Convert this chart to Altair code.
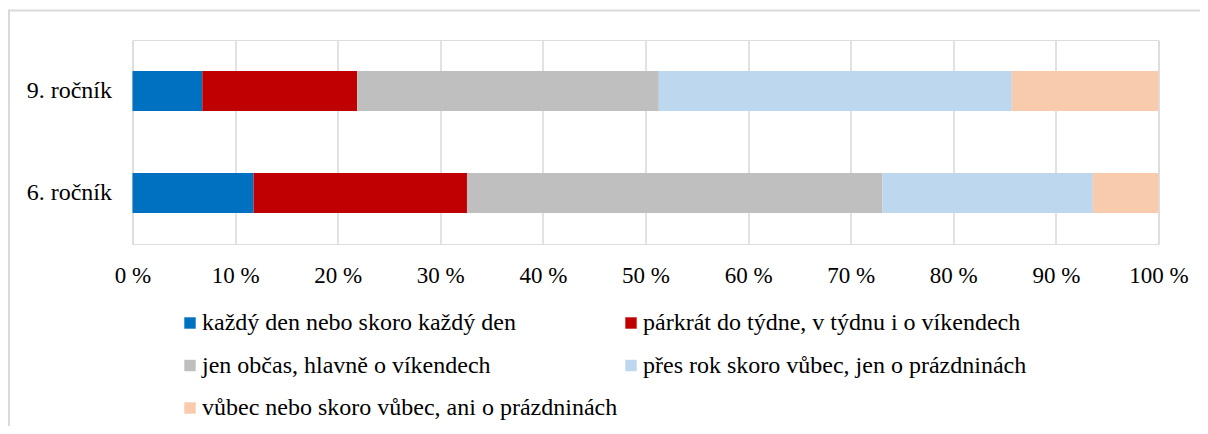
import altair as alt
import pandas as pd

categories = ["9. ročník", "6. ročník"]
series = [
    "každý den nebo skoro každý den",
    "párkrát do týdne, v týdnu i o víkendech",
    "jen občas, hlavně o víkendech",
    "přes rok skoro vůbec, jen o prázdninách",
    "vůbec nebo skoro vůbec, ani o prázdninách",
]
values_9 = [6.8, 15.1, 29.4, 34.4, 14.3]
values_6 = [11.8, 20.8, 40.5, 20.5, 6.4]
colors = ["#0070C0", "#C00000", "#BFBFBF", "#BDD7EE", "#F8CBAD"]
x_ticks = [0, 10, 20, 30, 40, 50, 60, 70, 80, 90, 100]

rows = []
for cat, vals in zip(categories, [values_9, values_6]):
    for i, (s, v) in enumerate(zip(series, vals)):
        rows.append({"cat": cat, "series": s, "order": i, "value": v})
df = pd.DataFrame(rows)

FONT = "Liberation Serif"

bars = alt.Chart(df).mark_bar(size=40).encode(
    x=alt.X(
        "value:Q",
        stack="zero",
        scale=alt.Scale(domain=[0, 100], nice=False),
        axis=alt.Axis(
            values=x_ticks,
            labelExpr="datum.value + ' %'",
            title=None,
            domain=False,
            ticks=False,
            grid=True,
            gridColor="#D9D9D9",
            gridWidth=1.5,
            labelFont=FONT,
            labelFontSize=23,
            labelColor="#000000",
            labelPadding=20,
            labelFlush=False,
        ),
    ),
    y=alt.Y(
        "cat:N",
        sort=categories,
        scale=alt.Scale(paddingInner=0, paddingOuter=0),
        axis=alt.Axis(
            title=None,
            domain=False,
            ticks=False,
            labelFont=FONT,
            labelFontSize=24,
            labelColor="#000000",
            labelPadding=21,
        ),
    ),
    color=alt.Color(
        "series:N",
        sort=series,
        scale=alt.Scale(domain=series, range=colors),
        legend=alt.Legend(
            title=None,
            orient="none",
            legendX=45.5,
            legendY=271,
            columns=2,
            direction="horizontal",
            symbolType="square",
            symbolSize=130,
            symbolStrokeWidth=0,
            labelFont=FONT,
            labelFontSize=24,
            labelColor="#000000",
            labelLimit=800,
            labelOffset=0,
            rowPadding=18.5,
            columnPadding=1,
            padding=0,
        ),
    ),
    order=alt.Order("order:Q"),
)

frame_top = alt.Chart(alt.Data(values=[{}])).mark_rule(
    stroke="#D9D9D9", strokeWidth=2
).encode(
    x=alt.value(-124.5),
    x2=alt.value(1200),
    y=alt.value(-29.5),
)
frame_left = alt.Chart(alt.Data(values=[{}])).mark_rule(
    stroke="#D9D9D9", strokeWidth=2
).encode(
    x=alt.value(-123.5),
    y=alt.value(-30.5),
    y2=alt.value(600),
)

chart = alt.layer(frame_top, frame_left, bars).properties(
    width=1026,
    height=204,
    autosize=alt.AutoSizeParams(type="none"),
    padding={"left": 124.5, "top": 32, "right": 41.5, "bottom": 182},
).configure_view(strokeWidth=0).configure(background="#FFFFFF")

chart.save("out.html", embed_options={"renderer": "svg", "actions": False})
